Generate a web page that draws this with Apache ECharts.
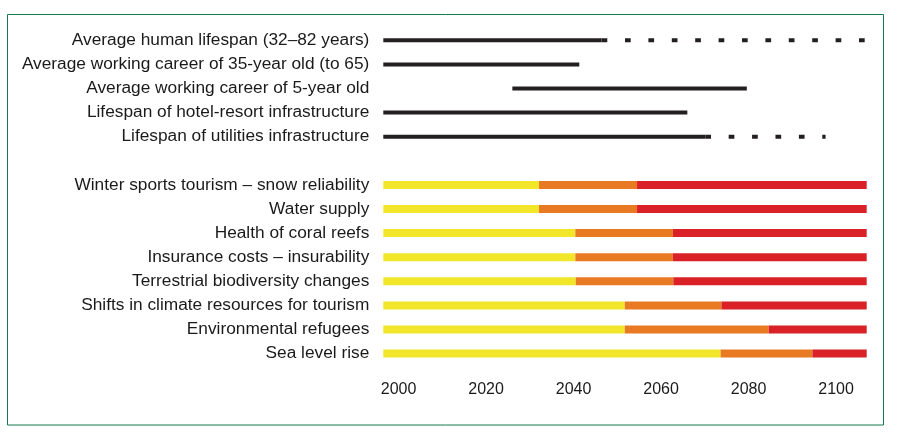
<!DOCTYPE html>
<html>
<head>
<meta charset="utf-8">
<script src="https://cdn.jsdelivr.net/npm/echarts@6/dist/echarts.min.js"></script>
<style>
html,body{margin:0;padding:0;background:#fff;}
#chart{width:913px;height:437px;}
</style>
</head>
<body>
<div id="chart"></div>
<script>
// Row labels (top to bottom); empty string is the spacer row
var categories = [
  'Average human lifespan (32\u201382 years)',
  'Average working career of 35-year old (to 65)',
  'Average working career of 5-year old',
  'Lifespan of hotel-resort infrastructure',
  'Lifespan of utilities infrastructure',
  '',
  'Winter sports tourism \u2013 snow reliability',
  'Water supply',
  'Health of coral reefs',
  'Insurance costs \u2013 insurability',
  'Terrestrial biodiversity changes',
  'Shifts in climate resources for tourism',
  'Environmental refugees',
  'Sea level rise'
];
var tickYears = [2000, 2020, 2040, 2060, 2080, 2100];
var axisMin = 1996.5;
var axisMax = 2107;

// Timeline rows (solid span, optional dashed extension)
var lineRows = [0, 1, 2, 3, 4];
var solidStart = [1996.5, 1996.5, 2026.0, 1996.5, 1996.5];
var solidEnd   = [2046.4, 2041.3, 2079.6, 2066.0, 2070.1];
var dashStart  = [2046.4, null, null, null, 2070.1];
var dashEnd    = [2107.0, null, null, null, 2097.6];

// Impact rows: year where each colour band ends
var impactRows = [6, 7, 8, 9, 10, 11, 12, 13];
var yellowEnd = [2032.1, 2032.1, 2040.4, 2040.4, 2040.5, 2051.7, 2051.7, 2073.6];
var orangeEnd = [2054.5, 2054.5, 2062.7, 2062.7, 2062.8, 2073.8, 2084.6, 2094.6];
var redEnd    = [2107.0, 2107.0, 2107.0, 2107.0, 2107.0, 2107.0, 2107.0, 2107.0];

function rowData(vals) {
  var arr = categories.map(function(){ return '-'; });
  impactRows.forEach(function(r, i){ arr[r] = vals[i]; });
  return arr;
}

var series = [];
var lineColor = '#231f20';
lineRows.forEach(function(r, i){
  series.push({
    type: 'line', symbol: 'none', silent: true,
    data: [[solidStart[i], r], [solidEnd[i], r]],
    lineStyle: { color: lineColor, width: 4, cap: 'butt' },
    z: 3
  });
  if (dashStart[i] != null) {
    series.push({
      type: 'line', symbol: 'none', silent: true,
      data: [[dashStart[i], r], [dashEnd[i], r]],
      lineStyle: { color: lineColor, width: 4, cap: 'butt', type: [5.7, 17.7] },
      z: 3
    });
  }
});

var yellowSeg = yellowEnd;
var orangeSeg = orangeEnd.map(function(v, i){ return +(v - yellowEnd[i]).toFixed(2); });
var redSeg = redEnd.map(function(v, i){ return +(v - orangeEnd[i]).toFixed(2); });

[[yellowSeg, '#f2e62a'], [orangeSeg, '#e87a24'], [redSeg, '#da2128']].forEach(function(p){
  series.push({
    type: 'bar', stack: 'impact', barWidth: 8, silent: true,
    data: rowData(p[0]),
    itemStyle: { color: p[1] },
    clip: true
  });
});

var chart = echarts.init(document.getElementById('chart'), null, { renderer: 'canvas' });
chart.setOption({
  animation: false,
  backgroundColor: '#ffffff',
  textStyle: { fontFamily: 'Liberation Sans, Arial, sans-serif' },
  graphic: [{
    type: 'rect',
    shape: { x: 7.5, y: 14.5, width: 876, height: 410.5 },
    style: { fill: 'none', stroke: '#17794d', lineWidth: 1 },
    silent: true
  }],
  grid: { left: 383.3, width: 483.4, top: 28.25, height: 337.4 },
  xAxis: {
    type: 'value', min: axisMin, max: axisMax,
    axisLine: { show: false }, axisTick: { show: false }, splitLine: { show: false },
    axisLabel: {
      customValues: tickYears,
      formatter: function(v){ return String(Math.round(v)); },
      fontSize: 16, color: '#1a1a1a', margin: 16,
      fontFamily: 'Liberation Sans, Arial, sans-serif'
    }
  },
  yAxis: {
    type: 'category', data: categories, inverse: true,
    axisLine: { show: false }, axisTick: { show: false }, splitLine: { show: false },
    axisLabel: {
      fontSize: 17.3, color: '#1a1a1a', margin: 14,
      fontFamily: 'Liberation Sans, Arial, sans-serif'
    }
  },
  series: series
});
</script>
</body>
</html>
